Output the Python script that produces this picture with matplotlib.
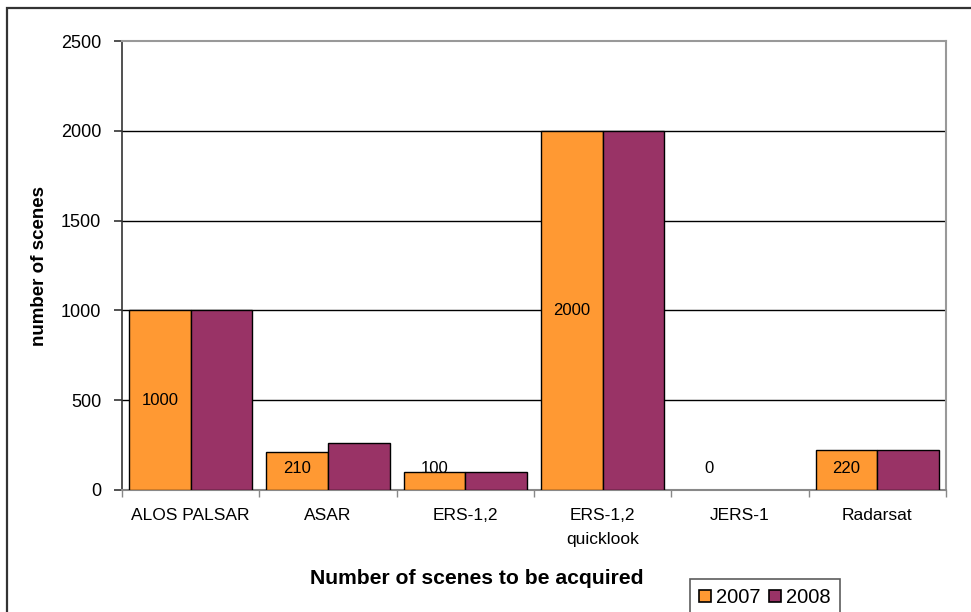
import matplotlib
matplotlib.use("Agg")
import matplotlib.pyplot as plt
from matplotlib.patches import Patch, Rectangle
import numpy as np

plt.rcParams['font.family'] = ['Liberation Sans', 'DejaVu Sans']

categories = ["ALOS PALSAR", "ASAR", "ERS-1,2", "ERS-1,2\nquicklook", "JERS-1", "Radarsat"]
values_2007 = [1000, 210, 100, 2000, 0, 220]
values_2008 = [1000, 260, 100, 2000, 0, 220]
series_names = ["2007", "2008"]
colors = ["#FF9933", "#993366"]
yticks = [0, 500, 1000, 1500, 2000, 2500]

W, H = 971, 612
fig = plt.figure(figsize=(W / 100, H / 100), dpi=100)
fig.patch.set_facecolor("white")

# outer chart border (extends beyond right/bottom edges)
fig.add_artist(Rectangle((6.5 / W, -0.05), 1.2, 1 - 7.5 / H + 0.05,
                         transform=fig.transFigure, fill=False,
                         edgecolor="#333333", linewidth=1.6))

left, right, top, bottom = 122, 946, 41, 490
ax = fig.add_axes([left / W, 1 - bottom / H, (right - left) / W, (bottom - top) / H])

n = len(categories)
x = np.arange(n)
bw = 0.45
lw07 = [1.0 if v > 0 else 0 for v in values_2007]
lw08 = [1.0 if v > 0 else 0 for v in values_2008]
ax.bar(x - bw / 2, values_2007, width=bw, color=colors[0], edgecolor="black", linewidth=lw07, zorder=3)
ax.bar(x + bw / 2, values_2008, width=bw, color=colors[1], edgecolor="black", linewidth=lw08, zorder=3)

ax.set_xlim(-0.5, n - 0.5)
ax.set_ylim(0, 2500)

# gridlines
for yv in yticks[1:-1]:
    ax.axhline(yv, color="black", linewidth=1.0, zorder=1)

ax.spines["top"].set_color("#999999")
ax.spines["right"].set_color("#999999")
ax.spines["top"].set_linewidth(1.5)
ax.spines["right"].set_linewidth(1.5)
ax.spines["left"].set_color("#333333")
ax.spines["left"].set_linewidth(1.2)
ax.spines["bottom"].set_color("#888888")
ax.spines["bottom"].set_linewidth(1.5)

ax.set_yticks(yticks)
ax.set_yticklabels([str(v) for v in yticks], fontsize=13)
ax.tick_params(axis="y", direction="out", length=6, width=1.2, color="#333333", pad=9)

# x ticks at category boundaries, labels at centers
ax.set_xticks(np.arange(n + 1) - 0.5)
ax.set_xticklabels([])
ax.tick_params(axis="x", direction="out", length=5, width=1.0, color="#888888")
for i, c in enumerate(categories):
    ax.text(x[i], -100, c, ha="center", va="top", fontsize=12.5, linespacing=1.75)

# data labels for 2007
for i, v in enumerate(values_2007):
    ax.text(x[i] - bw / 2, max(v / 2, 118), str(v), ha="center", va="center", fontsize=12, zorder=5)

fig.text(477 / W, 1 - 578 / H, "Number of scenes to be acquired", ha="center", va="center",
         fontsize=15.2, fontweight="bold")
fig.text(39 / W, 1 - 266 / H, "number of scenes", ha="center", va="center",
         rotation=90, fontsize=13.5, fontweight="bold")

handles = [Patch(facecolor=colors[0], edgecolor="black", linewidth=1.2),
           Patch(facecolor=colors[1], edgecolor="black", linewidth=1.2)]
leg = fig.legend(handles, series_names, loc="upper left",
                 bbox_to_anchor=(690 / W, 1 - 579 / H), fontsize=14.5,
                 frameon=True, fancybox=False, ncol=2, handlelength=0.6, handleheight=0.6,
                 handletextpad=0.25, columnspacing=0.4, borderpad=0.45, borderaxespad=0)
leg.get_frame().set_edgecolor("#333333")
leg.get_frame().set_linewidth(1.2)

fig.savefig("out.png", dpi=100, facecolor="white")
